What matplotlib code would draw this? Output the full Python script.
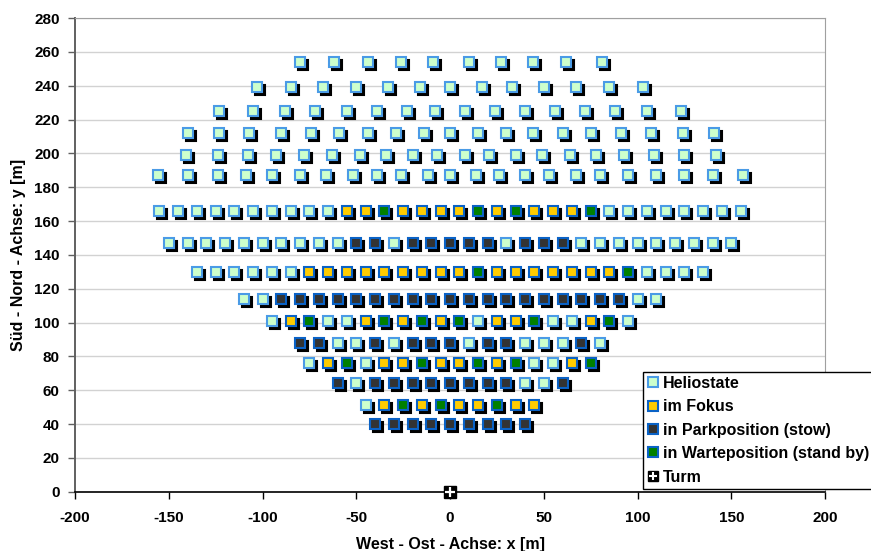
import matplotlib.pyplot as plt
from matplotlib.lines import Line2D
from matplotlib.transforms import offset_copy

plt.rcParams['font.family'] = ['Liberation Sans', 'DejaVu Sans']
plt.rcParams['font.weight'] = 'bold'
plt.rcParams['axes.labelweight'] = 'bold'
plt.rcParams['axes.unicode_minus'] = False

# rows of heliostats (north coordinate) with their x positions and state
# H = Heliostate, F = im Fokus, P = Parkposition, W = Warteposition
row_y = [254, 239, 225, 212, 199, 187, 166, 147, 130, 114, 101, 88, 76, 64, 51, 40]

row_x = [
    [-80, -62, -44, -26, -9, 10, 27, 44, 62, 81],
    [-103, -85, -68, -50, -33, -16, 0, 17, 33, 50, 67, 85, 103],
    [-123, -105, -88, -72, -55, -39, -23, -8, 8, 24, 40, 56, 72, 88, 105, 123],
    [-140, -123, -107, -90, -74, -59, -44, -29, -14, 0, 15, 30, 44, 60, 75, 91,
     107, 124, 141],
    [-141, -124, -108, -93, -78, -63, -48, -34, -20, -7, 8, 21, 35, 49, 64, 78,
     93, 109, 125, 142],
    [-156, -140, -124, -109, -95, -80, -66, -52, -39, -26, -12, 0, 14, 26, 40,
     53, 67, 80, 95, 110, 125, 140, 156],
    [-155, -145, -135, -125, -115, -105, -95, -85, -75, -65, -55, -45, -35, -25,
     -15, -5, 5, 15, 25, 35, 45, 55, 65, 75, 85, 95, 105, 115, 125, 135, 145, 155],
    [-150, -140, -130, -120, -110, -100, -90, -80, -70, -60, -50, -40, -30, -20,
     -10, 0, 10, 20, 30, 40, 50, 60, 70, 80, 90, 100, 110, 120, 130, 140, 150],
    [-135, -125, -115, -105, -95, -85, -75, -65, -55, -45, -35, -25, -15, -5,
     5, 15, 25, 35, 45, 55, 65, 75, 85, 95, 105, 115, 125, 135],
    [-110, -100, -90, -80, -70, -60, -50, -40, -30, -20, -10, 0, 10, 20, 30, 40,
     50, 60, 70, 80, 90, 100, 110],
    [-95, -85, -75, -65, -55, -45, -35, -25, -15, -5, 5, 15, 25, 35, 45, 55, 65,
     75, 85, 95],
    [-80, -70, -60, -50, -40, -30, -20, -10, 0, 10, 20, 30, 40, 50, 60, 70, 80],
    [-75, -65, -55, -45, -35, -25, -15, -5, 5, 15, 25, 35, 45, 55, 65, 75],
    [-60, -50, -40, -30, -20, -10, 0, 10, 20, 30, 40, 50, 60],
    [-45, -35, -25, -15, -5, 5, 15, 25, 35, 45],
    [-40, -30, -20, -10, 0, 10, 20, 30, 40],
]

row_state = [
    "HHHHHHHHHH",
    "HHHHHHHHHHHHH",
    "HHHHHHHHHHHHHHHH",
    "HHHHHHHHHHHHHHHHHHH",
    "HHHHHHHHHHHHHHHHHHHH",
    "HHHHHHHHHHHHHHHHHHHHHHH",
    "HHHHHHHHHHFFWFFFFWFWFFFWHHHHHHHH",
    "HHHHHHHHHHPPHPPPPPHPPPHHHHHHHHH",
    "HHHHHHFFFFFFFFFWFFFFFFFWHHHH",
    "HHPPPPPPPPPPPPPPPPPPPHH",
    "HFWHHFWFWFWHFFWHHFWH",
    "PPHHPHPPPHPPHHHPH",
    "HFWHFFWFFWFWHHFW",
    "PHPPPPPPPPHHP",
    "HFWFWFFWFF",
    "PPPPPPPPP",
]

tower_x = [0]
tower_y = [0]

labels = ['Heliostate', 'im Fokus', 'in Parkposition (stow)',
          'in Warteposition (stand by)', 'Turm']

face = {'H': '#ccffcc', 'F': '#ffcc00', 'P': '#333333', 'W': '#008000'}
edge = {'H': '#4a9be6', 'F': '#0a62c6', 'P': '#0a62c6', 'W': '#0a62c6'}

fig = plt.figure(figsize=(8.71, 5.51), dpi=100)
ax = fig.add_axes([75 / 871, 1 - 491.7 / 551, 750 / 871, 473.7 / 551])

# black drop shadow: same squares shifted right/down by 3 px
shadow = offset_copy(ax.transData, fig=fig, x=3, y=-3, units='dots')

for y, xs, st in zip(row_y, row_x, row_state):
    for code in 'HFPW':
        pts = [x for x, s in zip(xs, st) if s == code]
        if not pts:
            continue
        ys = [y] * len(pts)
        ax.plot(pts, ys, 's', ms=7.4, mew=1.5, color='black', transform=shadow,
                zorder=3, clip_on=False)
        ax.plot(pts, ys, 's', ms=7.4, mew=1.5, mfc=face[code], mec=edge[code],
                zorder=4, clip_on=False)

ax.plot(tower_x, tower_y, 's', ms=8, color='black', zorder=6, clip_on=False)
ax.plot(tower_x, tower_y, '+', ms=6.5, mew=1.6, color='white', zorder=7, clip_on=False)

ax.set_xlim(-200, 200)
ax.set_ylim(0, 280)
ax.set_xticks(range(-200, 201, 50))
ax.set_yticks(range(0, 281, 20))
ax.grid(axis='y', color='#d2d2d2', lw=1.0)
ax.set_axisbelow(True)

ax.spines['top'].set_color('#a0a0a0')
ax.spines['right'].set_color('#a0a0a0')
ax.spines['left'].set_color('#606060')
ax.spines['left'].set_linewidth(1.4)
ax.spines['bottom'].set_color('black')
ax.spines['bottom'].set_linewidth(1.2)
ax.tick_params(axis='x', direction='out', length=5, width=1, colors='black',
               labelsize=11, pad=9)
ax.tick_params(axis='y', direction='out', length=5, width=1, color='#606060',
               labelcolor='black', labelsize=11, pad=6)

ax.set_xlabel('West - Ost - Achse: x [m]', fontsize=11.5, fontweight='bold')
ax.set_ylabel('Süd - Nord - Achse: y [m]', fontsize=11.5, fontweight='bold')
ax.xaxis.label.set_va('center')
ax.yaxis.label.set_va('center')
ax.xaxis.set_label_coords(0.5, -0.1125)
ax.yaxis.set_label_coords(-0.076, 0.5)

handles = [Line2D([], [], marker='s', ls='none', ms=7.4, mew=1.5,
                  mfc=face[c], mec=edge[c]) for c in 'HFPW']
handles.append((Line2D([], [], marker='s', ls='none', ms=7.5, color='black'),
                Line2D([], [], marker='+', ls='none', ms=6, mew=1.5, color='white')))

leg = ax.legend(handles, labels, loc='upper left',
                bbox_to_anchor=(643 / 871, 1 - 371.7 / 551),
                bbox_transform=fig.transFigure, borderaxespad=0,
                frameon=True, fancybox=False, edgecolor='black', framealpha=1,
                borderpad=0.25, handlelength=0.7, handletextpad=0.3,
                labelspacing=0.53, fontsize=11.5)
leg.get_frame().set_linewidth(1.0)
leg.set_zorder(10)

fig.savefig('out.png', dpi=100)
